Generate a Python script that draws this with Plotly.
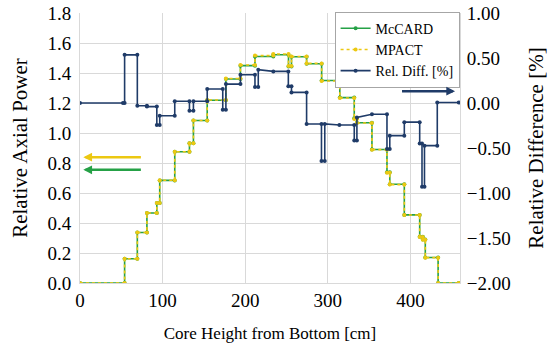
import plotly.graph_objects as go

# ---- Data ----
# MPACT relative axial power (step profile vertices)
height_mpact = [0, 54, 54, 69.4, 69.4, 81, 81, 93, 93, 96.5, 96.5, 114.7, 114.7, 132.5, 132.5, 137.3,
                137.3, 154, 154, 176.6, 176.6, 194.2, 194.2, 211.8, 211.8, 234, 234, 252.4, 252.4, 256,
                256, 274.3, 274.3, 292.5, 292.5, 314.5, 314.5, 332, 332, 335.2, 335.2, 353.4, 353.4,
                371.6, 371.6, 375, 375, 392.6, 392.6, 411.2, 411.2, 415, 415, 418, 418, 433.5, 433.5, 458.5]
power_mpact = [0.0, 0.0, 0.162, 0.162, 0.337, 0.337, 0.467, 0.467, 0.533, 0.533, 0.685, 0.685, 0.875, 0.875,
               0.931, 0.931, 1.083, 1.083, 1.22, 1.22, 1.363, 1.363, 1.453, 1.453, 1.516, 1.516, 1.527, 1.527,
               1.447, 1.447, 1.51, 1.51, 1.464, 1.464, 1.347, 1.347, 1.233, 1.233, 1.093, 1.093, 1.067, 1.067,
               0.889, 0.889, 0.735, 0.735, 0.656, 0.656, 0.453, 0.453, 0.307, 0.307, 0.289, 0.289, 0.169,
               0.169, 0.0, 0.0]

# McCARD relative axial power (indistinguishable from MPACT at this scale)
height_mccard = [0, 54, 54, 69.4, 69.4, 81, 81, 93, 93, 96.5, 96.5, 114.7, 114.7, 132.5, 132.5, 137.3,
                 137.3, 154, 154, 176.6, 176.6, 194.2, 194.2, 211.8, 211.8, 234, 234, 252.4, 252.4, 256,
                 256, 274.3, 274.3, 292.5, 292.5, 314.5, 314.5, 332, 332, 335.2, 335.2, 353.4, 353.4,
                 371.6, 371.6, 375, 375, 392.6, 392.6, 411.2, 411.2, 415, 415, 418, 418, 433.5, 433.5, 458.5]
power_mccard = [0.0, 0.0, 0.162, 0.162, 0.337, 0.337, 0.467, 0.467, 0.533, 0.533, 0.684, 0.684, 0.875, 0.875,
                0.931, 0.931, 1.083, 1.083, 1.218, 1.218, 1.36, 1.36, 1.449, 1.449, 1.51, 1.51, 1.522, 1.522,
                1.444, 1.444, 1.508, 1.508, 1.462, 1.462, 1.35, 1.35, 1.236, 1.236, 1.098, 1.098, 1.068, 1.068,
                0.89, 0.89, 0.738, 0.738, 0.658, 0.658, 0.454, 0.454, 0.308, 0.308, 0.29, 0.29, 0.17,
                0.17, 0.0, 0.0]

# Relative difference [%] (right axis)
height_diff = [0, 52, 54, 54, 69.4, 69.4, 81, 81, 93, 93, 96.5, 96.5, 114.7, 114.7, 132.5, 132.5, 137.3,
               137.3, 154, 154, 172.8, 172.8, 176.6, 176.6, 194.2, 194.2, 211.8, 211.8, 215.8, 215.8, 234,
               252.2, 252.2, 256, 256, 274.3, 274.3, 292.3, 292.3, 296.3, 296.3, 314, 332, 332, 335.2, 335.2,
               353.4, 371.6, 371.6, 375, 375, 392.6, 392.6, 411.2, 411.2, 414, 414, 417, 417, 432.5, 432.5, 458.5]
rel_diff = [0.0, 0.0, 0.0, 0.535, 0.535, -0.03, -0.03, -0.04, -0.04, -0.245, -0.245, -0.141, -0.141, 0.02,
            0.02, -0.086, -0.086, 0.02, 0.02, 0.155, 0.155, -0.074, -0.074, 0.21, 0.21, 0.314, 0.314, 0.178,
            0.178, 0.37, 0.351, 0.351, 0.185, 0.185, 0.118, 0.118, -0.233, -0.233, -0.645, -0.645, -0.233,
            -0.245, -0.245, -0.417, -0.417, -0.16, -0.125, -0.125, -0.51, -0.51, -0.363, -0.363, -0.213,
            -0.213, -0.45, -0.45, -0.93, -0.93, -0.474, -0.474, 0.005, 0.005]

x_ticks = [0, 100, 200, 300, 400]

GREEN = "#25a146"
YELLOW = "#ecc812"
BLUE = "#1f3b68"
GRID = "#d9d9d9"
FONT = "Liberation Serif, Times New Roman, serif"
TICKFONT = dict(family=FONT, size=19, color="black")

fig = go.Figure()
fig.add_trace(go.Scatter(x=height_mccard, y=power_mccard, name="McCARD", mode="lines+markers",
                         line=dict(color=GREEN, width=1.6), marker=dict(color=GREEN, size=4)))
fig.add_trace(go.Scatter(x=height_mpact, y=power_mpact, name="MPACT", mode="lines+markers",
                         line=dict(color=YELLOW, width=1.6, dash="dot"), marker=dict(color=YELLOW, size=4)))
fig.add_trace(go.Scatter(x=height_diff, y=rel_diff, name="Rel. Diff. [%]", mode="lines+markers", yaxis="y2",
                         line=dict(color=BLUE, width=1.6), marker=dict(color=BLUE, size=4)))

arrows = [
    dict(x=4, y=0.839, ax=75.5, ay=0.839, color=YELLOW),
    dict(x=4, y=0.755, ax=75.5, ay=0.755, color=GREEN),
    dict(x=454, y=1.279, ax=388, ay=1.279, color=BLUE),
]
for a in arrows:
    fig.add_annotation(x=a["x"], y=a["y"], ax=a["ax"], ay=a["ay"], xref="x", yref="y",
                       axref="x", ayref="y", text="", showarrow=True, arrowhead=2,
                       arrowsize=0.7, arrowwidth=2.5, arrowcolor=a["color"])

fig.update_layout(
    width=550, height=350,
    margin=dict(l=80, r=90, t=13, b=67),
    paper_bgcolor="white", plot_bgcolor="white",
    font=dict(family=FONT, size=18, color="black"),
    showlegend=True,
    legend=dict(x=0.67, y=1.005, xanchor="left", yanchor="top", bgcolor="white",
                bordercolor="#a6a6a6", borderwidth=1, font=dict(size=14, family=FONT),
                tracegroupgap=0),
    xaxis=dict(range=[0, 460], tickvals=x_ticks, showgrid=True, gridcolor=GRID, showline=True,
               linecolor=GRID, zeroline=False, ticks="", automargin=False, tickfont=TICKFONT,
               title=dict(text="Core Height from Bottom [cm]", font=dict(family=FONT, size=17), standoff=17)),
    yaxis=dict(range=[0, 1.8], dtick=0.2, tickformat=".1f", showgrid=True, gridcolor=GRID, showline=True,
               linecolor=GRID, zeroline=False, ticks="", automargin=False, tickfont=TICKFONT,
               ticklabelstandoff=4,
               title=dict(text="Relative Axial Power", font=dict(family=FONT, size=21), standoff=14)),
    yaxis2=dict(range=[-2, 1], dtick=0.5, tickformat=".2f", overlaying="y", side="right", showgrid=False,
                showline=True, linecolor=GRID, zeroline=False, ticks="", automargin=False, tickfont=TICKFONT,
                ticklabelstandoff=2,
                title=dict(text="Relative Difference [%]", font=dict(family=FONT, size=21), standoff=18)),
)

fig.write_html("out.html", post_script="document.body.style.margin='0';",
               config={"displayModeBar": False})
